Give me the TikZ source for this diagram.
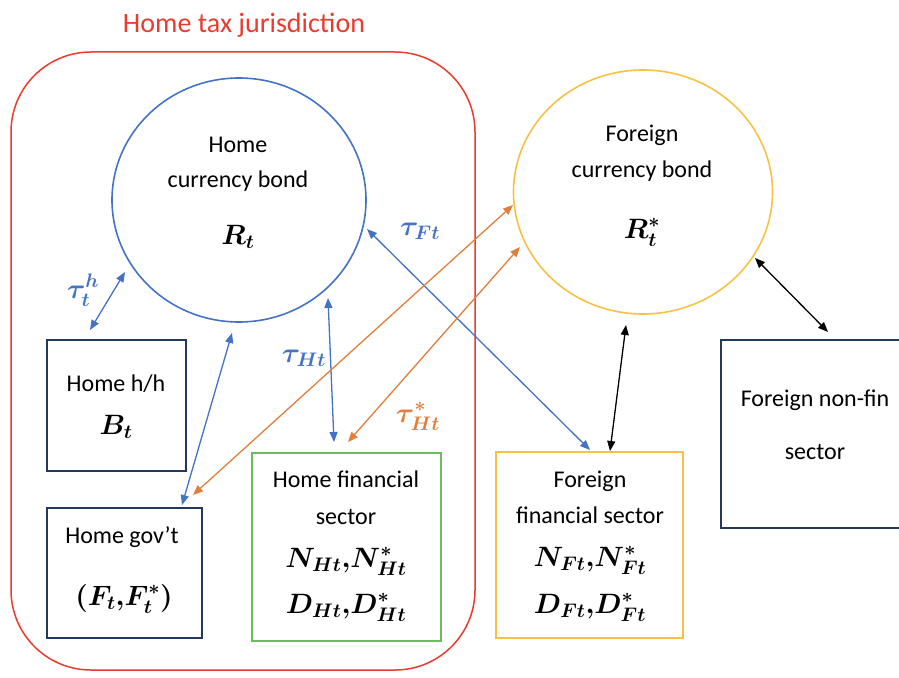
\documentclass[tikz,border=0pt]{standalone}
\DeclareFontShape{OML}{cmm}{m}{it}{<->cmmi10}{}
\DeclareFontShape{OML}{cmm}{b}{it}{<->cmmib10}{}
\DeclareFontShape{OMS}{cmsy}{m}{n}{<->cmsy10}{}
\DeclareFontShape{OMS}{cmsy}{b}{n}{<->cmbsy10}{}
\DeclareFontShape{OT1}{cmr}{m}{n}{<->cmr10}{}
\DeclareFontShape{OT1}{cmr}{bx}{n}{<->cmbx10}{}
\usepackage{fontspec}
\setmainfont{Carlito}
\usetikzlibrary{arrows.meta,shapes.geometric}
\definecolor{cred}{HTML}{EA3B2E}
\definecolor{cblue}{HTML}{4472C4}
\definecolor{corange}{HTML}{E07F3C}
\definecolor{cyellow}{HTML}{F7C244}
\definecolor{cgreen}{HTML}{6CBB5F}
\definecolor{cnavy}{HTML}{24375C}
\begin{document}
\begin{tikzpicture}[x=1pt,y=-1pt,
  txt/.style={anchor=base,inner sep=0pt,font=\fontsize{24}{28}\selectfont},
  mth/.style={anchor=base,inner sep=0pt,font=\fontsize{28}{34}\selectfont\boldmath},
  lab/.style={anchor=base,inner sep=0pt,font=\fontsize{28}{34}\selectfont\boldmath},
  bond/.style={ellipse,draw,line width=1.6pt,inner sep=0pt},
  sect/.style={rectangle,draw,line width=1.6pt,inner sep=0pt},
  dbl/.style={line width=1.3pt,{Triangle[length=10pt,width=8pt]}-{Triangle[length=10pt,width=8pt]}}
]
\useasboundingbox (0,0) rectangle (899,677);
\clip (0,0) rectangle (899,677);
% jurisdiction
\node[draw=cred,line width=1.5pt,rounded corners=80pt,minimum width=464pt,minimum height=618pt,inner sep=0pt] (jur) at (243,361) {};
\node[anchor=base,inner sep=0pt,text=cred,font=\fontsize{28}{32}\selectfont] (title) at (244,33) {Home tax jurisdiction};
% bonds
\node[bond,draw=cblue,minimum width=254pt,minimum height=244pt] (hb) at (239,200) {};
\node[txt] (hb1) at (238,152) {Home};
\node[txt] (hb2) at (238,187) {currency bond};
\node[mth] (hb3) at (238,244) {$R_t$};
\node[bond,draw=cyellow,minimum width=259pt,minimum height=244pt] (fb) at (643,192) {};
\node[txt] (fb1) at (642,141) {Foreign};
\node[txt] (fb2) at (642,177) {currency bond};
\node[mth] (fb3) at (642,238) {$R_t^*$};
% sectors
\node[sect,draw=cnavy,minimum width=139pt,minimum height=131pt] (hh) at (116.5,405.5) {};
\node[txt] (hh1) at (116,391) {Home h/h};
\node[mth] (hh2) at (116,434) {$B_t$};
\node[sect,draw=cnavy,minimum width=155pt,minimum height=130pt] (gov) at (124.5,573) {};
\node[txt] (gov1) at (122,543) {Home gov’t};
\node[mth] (gov2) at (124,605) {$(F_t{,}F_t^*)$};
\node[sect,draw=cgreen,minimum width=189pt,minimum height=188pt] (hf) at (346.5,547) {};
\node[txt] (hf1) at (346,487) {Home financial};
\node[txt] (hf2) at (346,524) {sector};
\node[mth] (hf3) at (346,567) {$N_{Ht}{,}N_{Ht}^*$};
\node[mth] (hf4) at (346,613) {$D_{Ht}{,}D_{Ht}^*$};
\node[sect,draw=cyellow,minimum width=187pt,minimum height=186pt] (ff) at (589.5,545) {};
\node[txt] (ff1) at (590,487) {Foreign};
\node[txt] (ff2) at (590,523) {financial sector};
\node[mth] (ff3) at (590,566) {$N_{Ft}{,}N_{Ft}^*$};
\node[mth] (ff4) at (590,613) {$D_{Ft}{,}D_{Ft}^*$};
\node[sect,draw=cnavy,minimum width=188pt,minimum height=188pt] (fn) at (815,434) {};
\node[txt] (fn1) at (815,406) {Foreign non-fin};
\node[txt] (fn2) at (815,459) {sector};
% arrow end points
\coordinate (a1) at (90,330);  \coordinate (b1) at (125,272);
\coordinate (a2) at (232,333); \coordinate (b2) at (182,505);
\coordinate (a3) at (328,298); \coordinate (b3) at (334,442);
\coordinate (a4) at (367,229); \coordinate (b4) at (590,450);
\coordinate (a5) at (513,205); \coordinate (b5) at (193,495);
\coordinate (a6) at (520,247); \coordinate (b6) at (348,442);
\coordinate (a7) at (626,325); \coordinate (b7) at (610,451);
\coordinate (a8) at (755,258); \coordinate (b8) at (828,332);
\draw[dbl,cblue] (a1) -- (b1);
\draw[dbl,cblue] (a2) -- (b2);
\draw[dbl,cblue] (a3) -- (b3);
\draw[dbl,cblue] (a4) -- (b4);
\draw[dbl,corange] (a5) -- (b5);
\draw[dbl,corange] (a6) -- (b6);
\draw[dbl,black] (a7) -- (b7);
\draw[dbl,black] (a8) -- (b8);
% labels
\node[lab,text=cblue] (l1) at (83,298) {$\tau_t^h$};
\node[lab,text=cblue] (l2) at (304,362) {$\tau_{Ht}$};
\node[lab,text=cblue] (l3) at (420,235) {$\tau_{Ft}$};
\node[lab,text=corange] (l4) at (418,422) {$\tau_{Ht}^*$};
\end{tikzpicture}
\end{document}
